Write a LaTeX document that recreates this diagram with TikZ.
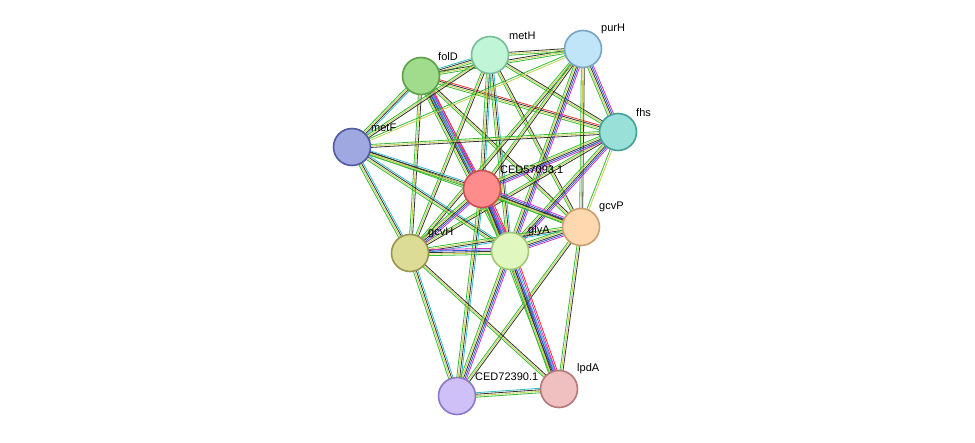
\documentclass[tikz,border=0pt]{standalone}
\usepackage{fontspec}
\setmainfont{Liberation Sans}
\usetikzlibrary{calc}
\definecolor{eg}{HTML}{33BB33}
\definecolor{ey}{HTML}{C8D050}
\definecolor{ek}{HTML}{333333}
\definecolor{eb}{HTML}{3355DD}
\definecolor{ec}{HTML}{33BBCC}
\definecolor{em}{HTML}{CC33CC}
\definecolor{er}{HTML}{EE3333}
\tikzset{prot/.style={circle,minimum size=37pt,inner sep=0pt,line width=1.6pt},
 lab/.style={font=\fontsize{11}{12}\selectfont,inner sep=1pt},
 ln/.style={line width=0.8pt}}
\def\Sa{-1.5/eg,0/ey,1.5/ek}
\def\Sb{-2.5/eg,-1/ey,0.5/ek,2/ec}
\def\Sc{-3/eg,-1.5/ey,0/ek,1.5/eb,3/em}
\def\Sd{-4.5/eg,-3/ey,-1.5/ek,0/eb,1.5/ec,3/em,4.5/er}
\def\Se{-1/eg,1/ey}
\newcommand\edge[3]{\foreach \o/\c in #3 {\draw[ln,\c] ($(#1)!\o pt!90:(#2)$) -- ($(#2)!\o pt!-90:(#1)$);}}
\begin{document}
\begin{tikzpicture}[x=1pt,y=-1pt]
\fill[white] (0,0) rectangle (975,442);
\coordinate (folD) at (421,76);
\coordinate (metH) at (490,55);
\coordinate (purH) at (583,49);
\coordinate (fhs) at (618,132);
\coordinate (metF) at (352,147);
\coordinate (ced5) at (482,189);
\coordinate (gcvP) at (581,227);
\coordinate (gcvH) at (410,253);
\coordinate (glyA) at (510,251);
\coordinate (ced7) at (457,396);
\coordinate (lpdA) at (559,389);
% edges
\edge{folD}{metH}{\Sb}
\edge{folD}{purH}{\Sa}
\edge{folD}{fhs}{{-3/eg,-1.5/ey,0/ek,1.5/er}}
\edge{folD}{metF}{\Sb}
\edge{folD}{gcvH}{\Sa}
\edge{folD}{gcvP}{\Sa}
\edge{folD}{ced5}{\Sc}
\edge{folD}{glyA}{\Sd}
\edge{metH}{purH}{\Sa}
\edge{metH}{fhs}{\Sa}
\edge{metH}{metF}{\Sa}
\edge{metH}{gcvH}{\Sa}
\edge{metH}{gcvP}{\Sa}
\edge{metH}{ced5}{\Sb}
\edge{metH}{glyA}{\Sb}
\edge{purH}{fhs}{\Sc}
\edge{purH}{metF}{\Se}
\edge{purH}{gcvH}{\Sa}
\edge{purH}{gcvP}{\Sa}
\edge{purH}{ced5}{\Sa}
\edge{purH}{glyA}{\Sc}
\edge{fhs}{metF}{\Sa}
\edge{fhs}{gcvP}{\Se}
\edge{fhs}{gcvH}{\Sa}
\edge{fhs}{ced5}{\Sc}
\edge{fhs}{glyA}{\Sc}
\edge{metF}{gcvH}{\Sb}
\edge{metF}{gcvP}{\Sa}
\edge{metF}{ced5}{\Sb}
\edge{metF}{glyA}{\Sb}
\edge{ced5}{glyA}{\Sd}
\edge{ced5}{gcvP}{\Sc}
\edge{ced5}{gcvH}{\Sc}
\edge{ced5}{lpdA}{\Sc}
\edge{ced5}{ced7}{\Sb}
\edge{gcvP}{gcvH}{\Sb}
\edge{gcvP}{glyA}{\Sc}
\edge{gcvP}{lpdA}{\Sa}
\edge{gcvP}{ced7}{\Sa}
\edge{gcvH}{glyA}{\Sc}
\edge{gcvH}{lpdA}{\Sa}
\edge{gcvH}{ced7}{\Sb}
\edge{glyA}{lpdA}{\Sd}
\edge{glyA}{ced7}{\Sc}
\edge{ced7}{lpdA}{\Sb}
% nodes
\node[prot,fill={rgb,255:red,160;green,220;blue,140},draw={rgb,255:red,90;green,160;blue,70}] (nfolD) at (folD) {};
\node[prot,fill={rgb,255:red,192;green,245;blue,216},draw={rgb,255:red,120;green,190;blue,150}] (nmetH) at (metH) {};
\node[prot,fill={rgb,255:red,192;green,228;blue,248},draw={rgb,255:red,120;green,165;blue,195}] (npurH) at (purH) {};
\node[prot,fill={rgb,255:red,152;green,224;blue,216},draw={rgb,255:red,70;green,160;blue,150}] (nfhs) at (fhs) {};
\node[prot,fill={rgb,255:red,159;green,168;blue,224},draw={rgb,255:red,80;green,90;blue,160}] (nmetF) at (metF) {};
\node[prot,fill={rgb,255:red,255;green,140;blue,140},draw={rgb,255:red,200;green,80;blue,80}] (nced5) at (ced5) {};
\node[prot,fill={rgb,255:red,255;green,216;blue,176},draw={rgb,255:red,200;green,160;blue,110}] (ngcvP) at (gcvP) {};
\node[prot,fill={rgb,255:red,220;green,220;blue,150},draw={rgb,255:red,150;green,150;blue,80}] (ngcvH) at (gcvH) {};
\node[prot,fill={rgb,255:red,224;green,248;blue,192},draw={rgb,255:red,160;green,200;blue,120}] (nglyA) at (glyA) {};
\node[prot,fill={rgb,255:red,208;green,192;blue,248},draw={rgb,255:red,140;green,120;blue,200}] (nced7) at (ced7) {};
\node[prot,fill={rgb,255:red,240;green,192;blue,192},draw={rgb,255:red,180;green,120;blue,120}] (nlpdA) at (lpdA) {};
% labels
\node[lab,anchor=south west] (lfolD) at (437,62) {folD};
\node[lab,anchor=south west] (lmetH) at (508,41) {metH};
\node[lab,anchor=south west] (lpurH) at (600,35) {purH};
\node[lab,anchor=south west] (lfhs) at (635,118) {fhs};
\node[lab,anchor=south west] (lmetF) at (370,133) {metF};
\node[lab,anchor=south west] (lced5) at (499,175) {CED57093.1};
\node[lab,anchor=south west] (lgcvP) at (598,213) {gcvP};
\node[lab,anchor=south west] (lgcvH) at (427,239) {gcvH};
\node[lab,anchor=south west] (lglyA) at (527,237) {glyA};
\node[lab,anchor=south west] (lced7) at (474,382) {CED72390.1};
\node[lab,anchor=south west] (llpdA) at (576,375) {lpdA};
\end{tikzpicture}
\end{document}
